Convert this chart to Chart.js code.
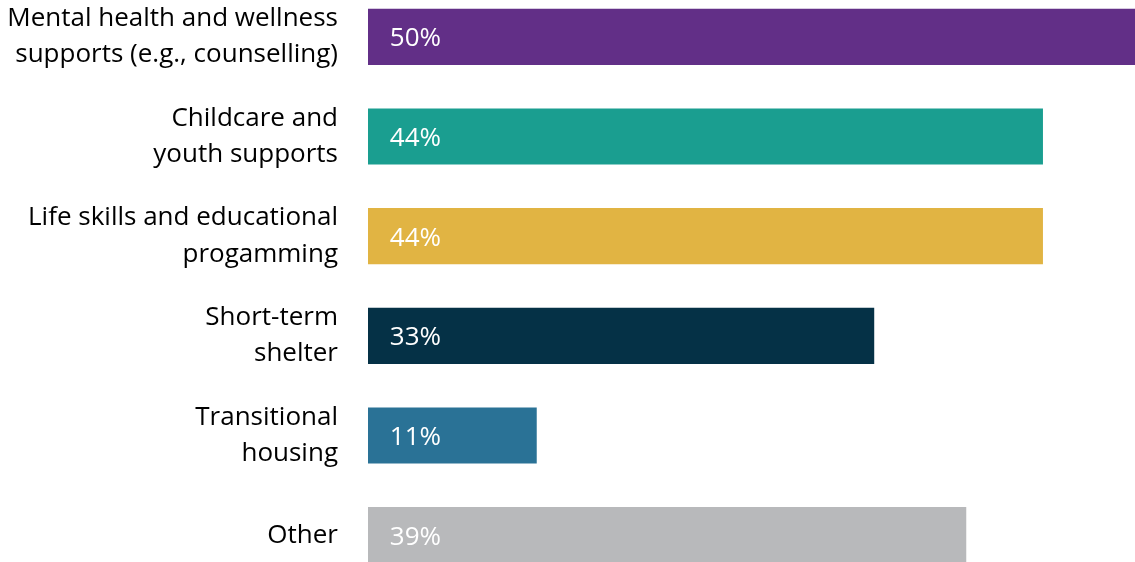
<!DOCTYPE html>
<html>
<head>
<meta charset="utf-8">
<script src="https://cdn.jsdelivr.net/npm/chart.js@4"></script>
<style>
    html, body { margin: 0; padding: 0; background: #ffffff; overflow: hidden; }
    #wrap { position: absolute; left: 0; top: -13px; width: 1135px; height: 598px; }
</style>
</head>
<body>
<div id="wrap"><canvas id="supportsChart"></canvas></div>
<script>
// Categories (multi-line labels) and share of respondents, in percent
const categories = [
    ['Mental health and wellness', 'supports (e.g., counselling)'],
    ['Childcare and', 'youth supports'],
    ['Life skills and educational', 'progamming'],
    ['Short-term', 'shelter'],
    ['Transitional', 'housing'],
    ['Other']
];
const shares = [50, 44, 44, 33, 11, 39];
const barColors = ['#622f87', '#1a9e90', '#e1b443', '#053146', '#2a7296', '#b8b9bb'];

const labelFont = '"Open Sans", Lato, sans-serif';

// Writes the percentage inside each bar, right-aligned a fixed distance from the bar start
const valueLabels = {
    id: 'valueLabels',
    afterDatasetsDraw(chart) {
        const ctx = chart.ctx;
        const meta = chart.getDatasetMeta(0);
        ctx.save();
        ctx.fillStyle = '#ffffff';
        ctx.font = '26px ' + labelFont;
        ctx.textAlign = 'right';
        ctx.textBaseline = 'middle';
        meta.data.forEach((bar, i) => {
            ctx.fillText(shares[i] + '%', bar.base + 73, bar.y + 2);
        });
        ctx.restore();
    }
};

new Chart(document.getElementById('supportsChart'), {
    type: 'bar',
    data: {
        labels: categories,
        datasets: [{
            data: shares,
            backgroundColor: barColors,
            borderWidth: 0,
            barPercentage: 0.563,
            categoryPercentage: 1
        }]
    },
    options: {
        indexAxis: 'y',
        responsive: true,
        maintainAspectRatio: false,
        animation: false,
        layout: { padding: 0 },
        plugins: {
            legend: { display: false },
            tooltip: { enabled: false }
        },
        scales: {
            x: {
                display: false,
                min: 0,
                max: 50
            },
            y: {
                afterFit(scale) {
                    // fixed label column; bars fill the full height
                    scale.width = 368;
                    scale.paddingTop = 0;
                    scale.paddingBottom = 0;
                },
                border: { display: false },
                grid: { display: false, drawTicks: false },
                ticks: {
                    padding: 30,
                    color: '#000000',
                    font: { family: labelFont, size: 26, lineHeight: 1.4 }
                }
            }
        }
    },
    plugins: [valueLabels]
});
</script>
</body>
</html>
